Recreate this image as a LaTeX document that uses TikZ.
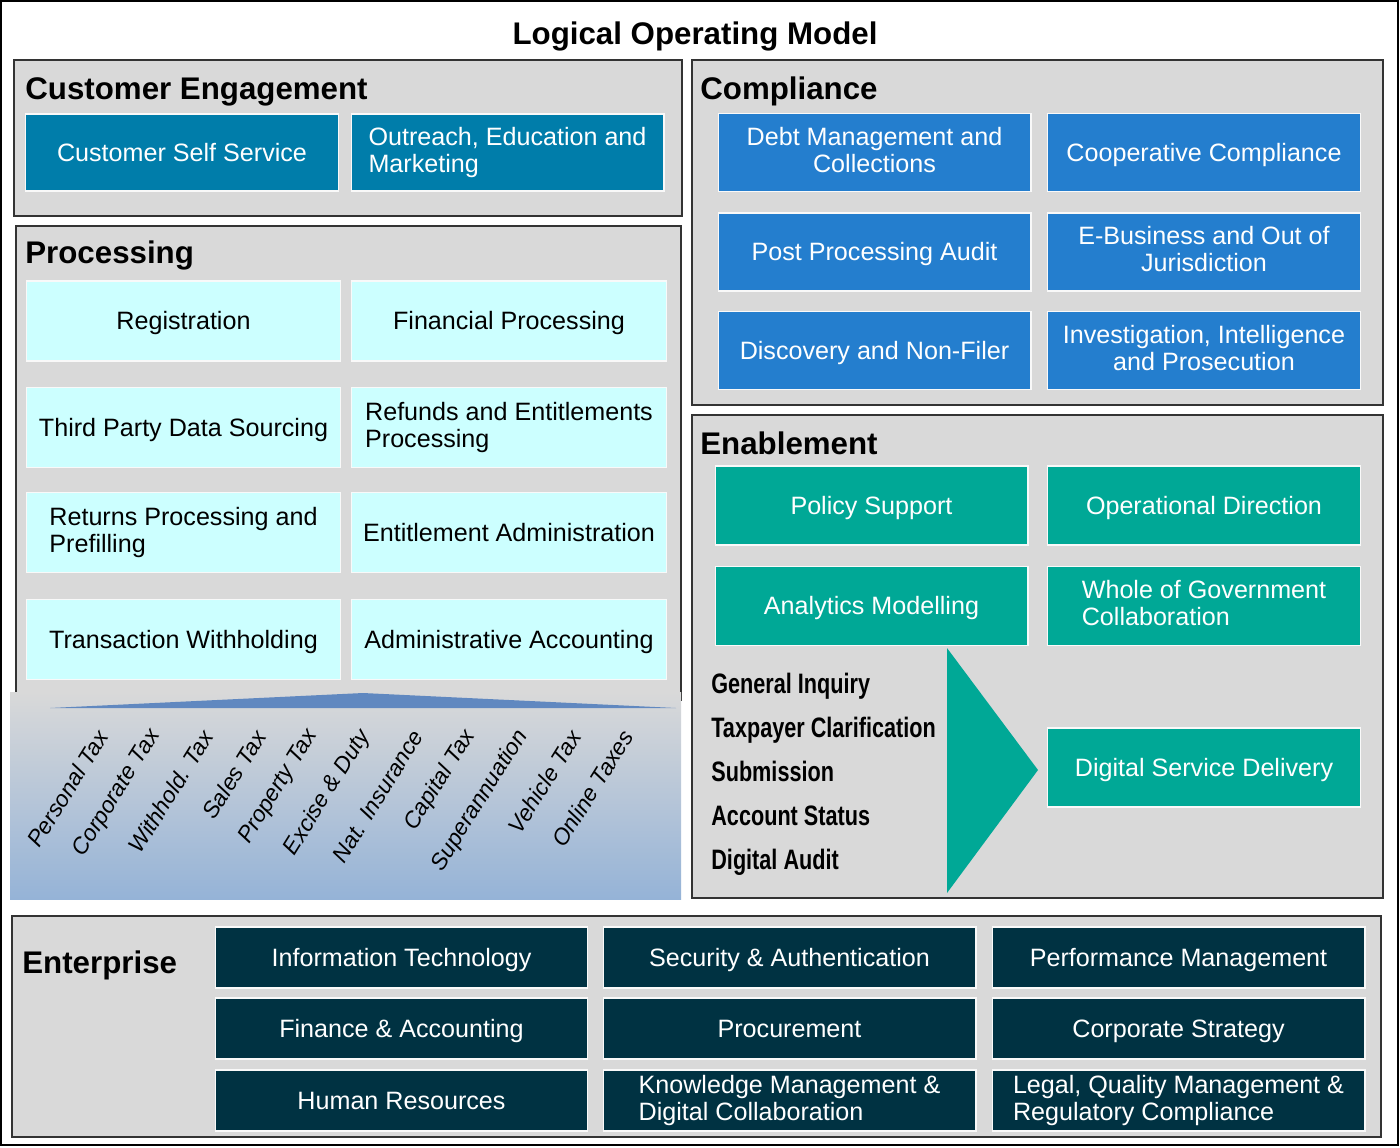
\documentclass[tikz,border=0pt]{standalone}
\usepackage{fontspec}
\setmainfont{Liberation Sans}
\newfontfamily\narrowfont[FakeStretch=0.77]{Liberation Sans}
\usetikzlibrary{positioning,calc}

\definecolor{panelgray}{RGB}{217,217,217}
\definecolor{ceblue}{RGB}{0,125,170}
\definecolor{procyan}{RGB}{204,255,255}
\definecolor{compblue}{RGB}{36,126,206}
\definecolor{enteal}{RGB}{0,168,150}
\definecolor{entdark}{RGB}{0,50,66}
\definecolor{taxblue}{RGB}{149,179,215}
\definecolor{ridgeblue}{RGB}{96,136,192}

\newcommand{\capstrut}{\rule[-3.3pt]{0pt}{16.8pt}}

\begin{document}
\begin{tikzpicture}[x=0.02cm, y=-0.02cm,
    panel/.style={draw=black!80, line width=1pt, fill=panelgray},
    heading/.style={anchor=base west, inner sep=0pt, font=\fontsize{17.8}{20}\selectfont\bfseries},
    box/.style={draw=white!85!panelgray, line width=0.6pt, inner sep=2pt, align=center, font=\fontsize{14.3}{15.4}\selectfont,
        execute at begin node=\capstrut, execute at end node=\capstrut},
    ce/.style={box, fill=ceblue, text=white, minimum width=6.26cm, minimum height=1.54cm},
    proc/.style={box, fill=procyan, text=black, minimum width=6.3cm, minimum height=1.6cm},
    comp/.style={box, fill=compblue, text=white, minimum width=6.26cm, minimum height=1.56cm},
    enab/.style={box, fill=enteal, text=white, minimum width=6.26cm, minimum height=1.58cm},
    ent/.style={box, fill=entdark, text=white, minimum width=7.46cm, minimum height=1.22cm},
    taxlabel/.style={anchor=east, rotate=58, inner sep=0pt, font=\fontsize{13}{15}\selectfont\itshape},
    channel/.style={anchor=base west, inner sep=0pt, font=\fontsize{16}{18}\selectfont\narrowfont\bfseries}
]

% Page and frame
\fill[white] (0,0) rectangle (1400,1147);
\useasboundingbox (0,0) rectangle (1400,1147);
\draw[line width=1.2pt] (1,1) rectangle (1398,1145);

% Title
\node[anchor=base, font=\fontsize{17.8}{20}\selectfont\bfseries] (title) at (695,44) {Logical Operating Model};

% Customer engagement
\draw[panel] (14,60) rectangle (682,216);
\node[heading] (cehead) at (25,99) {Customer Engagement};
\node[ce] (selfserv) at (182,152.5) {Customer Self Service};
\node[ce, align=left] (outreach) at (507.5,152.5) {Outreach, Education and\\Marketing};

% Processing
\draw[panel] (16,226) rectangle (681,700);
\node[heading] (prochead) at (25,263) {Processing};
\node[proc] (reg) at (183.5,321) {Registration};
\node[proc] (finproc) at (509,321) {Financial Processing};
\node[proc] (thirdparty) at (183.5,427.5) {Third Party Data Sourcing};
\node[proc, align=left] (refunds) at (509,427.5) {Refunds and Entitlements\\Processing};
\node[proc, align=left] (returns) at (183.5,532.5) {Returns Processing and\\Prefilling};
\node[proc] (entadmin) at (509,532.5) {Entitlement Administration};
\node[proc] (withhold) at (183.5,639.5) {Transaction Withholding};
\node[proc] (adminacc) at (509,639.5) {Administrative Accounting};

% Tax types band
\shade[top color=panelgray, bottom color=taxblue] (10,692) rectangle (681,899);
\fill[ridgeblue] (50,708) -- (363,693) -- (676,708) -- cycle;
\foreach \tax [count=\i from 0] in {Personal Tax, Corporate Tax, Withhold. Tax, Sales Tax, Property Tax, Excise \& Duty, Nat. Insurance, Capital Tax, Superannuation, Vehicle Tax, Online Taxes}
    \node[taxlabel] (tax\i) at (103+52.5*\i,732) {\tax};

% Compliance
\draw[panel] (692,60) rectangle (1383,405);
\node[heading] (comphead) at (700,99) {Compliance};
\node[comp] (debt) at (874.5,152.5) {Debt Management and\\Collections};
\node[comp] (coop) at (1204,152.5) {Cooperative Compliance};
\node[comp] (postaudit) at (874.5,252) {Post Processing Audit};
\node[comp] (ebiz) at (1204,252) {E-Business and Out of\\Jurisdiction};
\node[comp] (discovery) at (874.5,350.5) {Discovery and Non-Filer};
\node[comp] (invest) at (1204,350.5) {Investigation, Intelligence\\and Prosecution};

% Enablement
\draw[panel] (692,415) rectangle (1383,898);
\node[heading] (enabhead) at (700,454) {Enablement};
\node[enab] (policy) at (871.5,505.5) {Policy Support};
\node[enab] (opdir) at (1204,505.5) {Operational Direction};
\node[enab] (analytics) at (871.5,606) {Analytics Modelling};
\node[enab, align=left] (wog) at (1204,606) {Whole of Government\\Collaboration};
\node[enab] (dsd) at (1204,767.5) {Digital Service Delivery};
\fill[enteal] (947,648) -- (1038,770) -- (947,893) -- cycle;
\foreach \ch [count=\i from 0] in {General Inquiry, Taxpayer Clarification, Submission, Account Status, Digital Audit}
    \node[channel] (ch\i) at (711,693+44*\i) {\ch};

% Enterprise
\draw[panel] (12,916) rectangle (1381,1137);
\node[heading] (enthead) at (22,973) {Enterprise};
\node[ent] (it) at (401.5,957.5) {Information Technology};
\node[ent] (security) at (789.5,957.5) {Security \& Authentication};
\node[ent] (perf) at (1178.5,957.5) {Performance Management};
\node[ent] (finance) at (401.5,1028.5) {Finance \& Accounting};
\node[ent] (procure) at (789.5,1028.5) {Procurement};
\node[ent] (strategy) at (1178.5,1028.5) {Corporate Strategy};
\node[ent] (hr) at (401.5,1100.5) {Human Resources};
\node[ent, align=left] (knowledge) at (789.5,1100.5) {Knowledge Management \&\\Digital Collaboration};
\node[ent, align=left] (legal) at (1178.5,1100.5) {Legal, Quality Management \&\\Regulatory Compliance};

\end{tikzpicture}
\end{document}
